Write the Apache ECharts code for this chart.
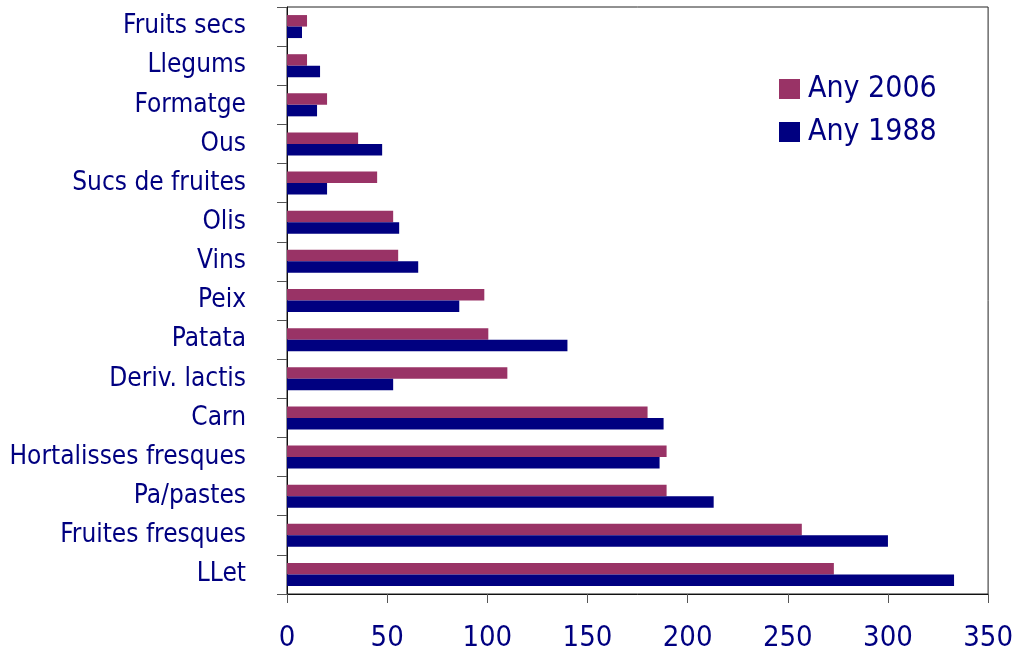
<!DOCTYPE html>
<html>
<head>
<meta charset="utf-8">
<script src="https://cdn.jsdelivr.net/npm/echarts@6/dist/echarts.min.js"></script>
<style>
  html, body { margin: 0; padding: 0; background: #fff; }
  #main { width: 1016px; height: 654px; }
</style>
</head>
<body>
<div id="main"></div>
<script>
// categories, bottom to top
var categories = ['LLet', 'Fruites fresques', 'Pa/pastes', 'Hortalisses fresques', 'Carn',
  'Deriv. lactis', 'Patata', 'Peix', 'Vins', 'Olis', 'Sucs de fruites', 'Ous',
  'Formatge', 'Llegums', 'Fruits secs'];
var any2006 = [273, 257, 189.5, 189.5, 180, 110, 100.5, 98.5, 55.5, 53, 45, 35.5, 20, 10, 10];
var any1988 = [333, 300, 213, 186, 188, 53, 140, 86, 65.5, 56, 20, 47.5, 15, 16.5, 7.5];
var xTicks = [0, 50, 100, 150, 200, 250, 300, 350];

var navy = '#000080';
var plum = '#993366';
var font = '"DejaVu Sans Condensed", "DejaVu Sans", sans-serif';

var chart = echarts.init(document.getElementById('main'));

var option = {
  animation: false,
  backgroundColor: '#fff',
  textStyle: { fontFamily: font },
  grid: {
    left: 287, right: 25, top: 7, bottom: 60,
    show: true, borderColor: '#222', borderWidth: 1
  },
  legend: {
    data: ['Any 2006', 'Any 1988'],
    orient: 'vertical',
    left: 774, top: 69,
    itemWidth: 21, itemHeight: 20,
    itemGap: 13,
    itemGap: 13,
    icon: 'rect',
    textStyle: { color: navy, fontSize: 30, fontFamily: font, padding: [0, 0, 0, 3] }
  },
  xAxis: {
    type: 'value',
    min: xTicks[0],
    max: xTicks[xTicks.length - 1],
    interval: xTicks[1] - xTicks[0],
    axisLine: { show: true, lineStyle: { color: '#111', width: 1 } },
    axisTick: { show: true, length: 9, lineStyle: { color: '#555' } },
    splitLine: { show: false },
    axisLabel: { color: navy, fontSize: 29, margin: 30, fontFamily: font }
  },
  yAxis: {
    type: 'category',
    data: categories,
    axisLine: { show: true, lineStyle: { color: '#111', width: 1 } },
    axisTick: { show: true, length: 10, lineStyle: { color: '#555' } },
    axisLabel: { color: navy, fontSize: 26, margin: 41, fontFamily: font }
  },
  series: [
    {
      name: 'Any 2006',
      type: 'bar',
      data: any2006,
      itemStyle: { color: plum },
      barWidth: 11.5,
      barGap: '0%',
      barCategoryGap: '40%'
    },
    {
      name: 'Any 1988',
      type: 'bar',
      data: any1988,
      itemStyle: { color: navy },
      barWidth: 11.5,
      barGap: '0%',
      barCategoryGap: '40%'
    }
  ]
};

chart.setOption(option);
</script>
</body>
</html>
